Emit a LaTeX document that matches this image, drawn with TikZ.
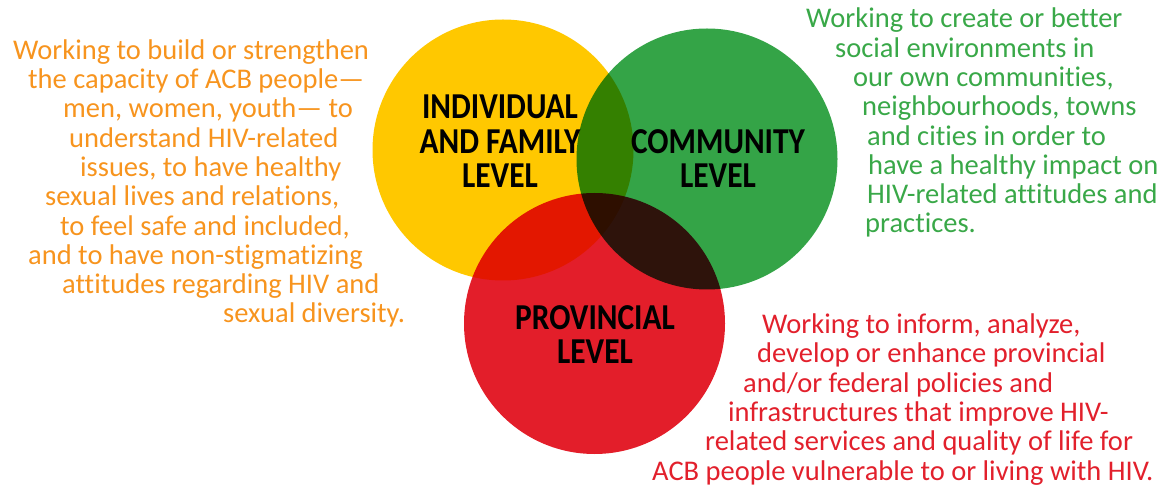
\documentclass[tikz,border=0pt]{standalone}
\usepackage{fontspec}
\setmainfont{Carlito}[RawFeature={-liga;-clig;-dlig;-calt}]
\newfontfamily\levelfont[FakeStretch=0.86]{Carlito}
\usetikzlibrary{positioning}
\definecolor{IndivColor}{RGB}{255,200,0}
\definecolor{CommColor}{RGB}{52,164,71}
\definecolor{ProvColor}{RGB}{227,30,42}
\definecolor{IndivText}{RGB}{247,148,30}
\definecolor{CommText}{RGB}{57,168,72}
\definecolor{ProvText}{RGB}{226,32,44}

\begin{document}
\begin{tikzpicture}[x=1pt, y=-1pt,
        disc/.style={circle, fill=#1, minimum size=261pt, inner sep=0pt},
        level/.style={font=\levelfont\bfseries\fontsize{36.5}{34.5}\selectfont, align=center, inner sep=0pt},
        blurb/.style={font=\fontsize{28.5}{29.3}\selectfont, align=left, inner sep=0pt, text=#1, anchor=base west}
    ]
        \useasboundingbox (0,0) rectangle (1168,486);

        \begin{scope}[blend group=multiply]
            \node[disc=IndivColor] (indiv) at (503,150) {};
            \node[disc=CommColor] (comm) at (707,159) {};
            \node[disc=ProvColor] (prov) at (594.5,323.5) {};
        \end{scope}

        \node[level] (indivlabel) at (500,141.5) {INDIVIDUAL\\AND FAMILY\\LEVEL};
        \node[level] (commlabel) at (718,158.5) {COMMUNITY\\LEVEL};
        \node[level] (provlabel) at (595,334.5) {PROVINCIAL\\LEVEL};

        % last line sits on the anchor
        \node[blurb=IndivText] (indivtext) at (13,323) {
            Working to build or strengthen\\
            \hspace*{15pt}the capacity of ACB people—\\
            \hspace*{50pt}men, women, youth— to\\
            \hspace*{56pt}understand HIV-related\\
            \hspace*{67pt}issues, to have healthy\\
            \hspace*{32pt}sexual lives and relations,\\
            \hspace*{47pt}to feel safe and included,\\
            \hspace*{15pt}and to have non-stigmatizing\\
            \hspace*{49pt}attitudes regarding HIV and\\
            \hspace*{210pt}sexual diversity.
        };

        \node[blurb=CommText] (commtext) at (806,233) {
            Working to create or better\\
            \hspace*{29pt}social environments in\\
            \hspace*{47pt}our own communities,\\
            \hspace*{56pt}neighbourhoods, towns\\
            \hspace*{61pt}and cities in order to\\
            \hspace*{62pt}have a healthy impact on\\
            \hspace*{61pt}HIV-related attitudes and\\
            \hspace*{59pt}practices.
        };

        \node[blurb=ProvText] (provtext) at (652,480) {
            \hspace*{110pt}Working to inform, analyze,\\
            \hspace*{105pt}develop or enhance provincial\\
            \hspace*{91pt}and/or federal policies and\\
            \hspace*{76pt}infrastructures that improve HIV-\\
            \hspace*{53pt}related services and quality of life for\\
            ACB people vulnerable to or living with HIV.
        };
    \end{tikzpicture}
\end{document}
